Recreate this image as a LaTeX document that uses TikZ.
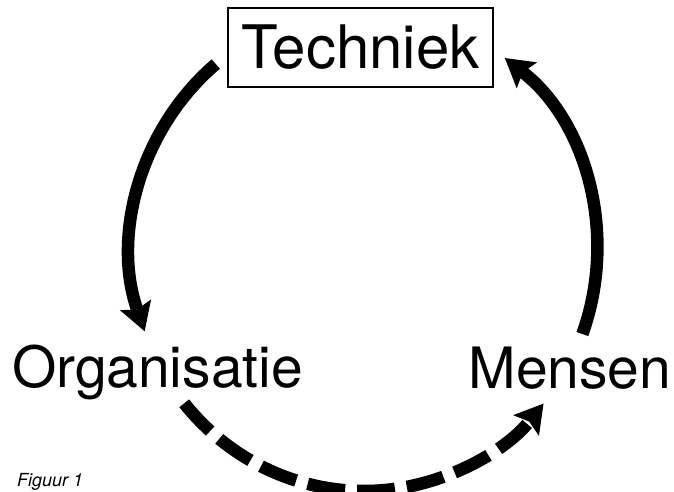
\documentclass[tikz,border=0pt]{standalone}
\usepackage{fontspec}
\setmainfont{TeX Gyre Heros}
\usetikzlibrary{arrows.meta}
\begin{document}
\begin{tikzpicture}[x=1pt,y=1pt,
  lbl/.style={font=\fontsize{57}{60}\selectfont, inner sep=0pt, anchor=base},
  flow/.style={line width=12.5pt, -{Stealth[length=28pt,width=33pt,inset=5pt,line width=0pt]}},
  boxed/.style={draw, line width=2.5pt, minimum width=265pt, minimum height=79pt, inner sep=0pt, font=\fontsize{60}{62}\selectfont},
]
\useasboundingbox (0,0) rectangle (674,491);
\fill[white] (0,0) rectangle (674,491);
\clip (0,0) rectangle (674,491);
\coordinate (ctr) at (364,241);
\node[boxed] (tech) at (360.5,443.5) {Techniek};
\node[lbl] (org) at (157.5,104) {Organisatie};
\node[lbl] (men) at (570,103) {Mensen};
\node[font=\itshape\fontsize{18}{20}\selectfont, anchor=base west, inner sep=0pt] (fig) at (17,5) {Figuur 1};
\coordinate (l0) at ([shift={(129.5:233 and 241)}]ctr);
\coordinate (r0) at ([shift={(-20.4:233 and 241)}]ctr);
\coordinate (d0) at ([shift={(219.5:233 and 241)}]ctr);
\draw[flow] (l0) arc[start angle=129.5, end angle=199.7, x radius=233, y radius=241];
\draw[flow] (r0) arc[start angle=-20.4, end angle=52.8, x radius=233, y radius=241];
\draw[flow, dash pattern=on 38pt off 12pt] (d0) arc[start angle=219.5, end angle=320.4, x radius=233, y radius=241];
\end{tikzpicture}
\end{document}
